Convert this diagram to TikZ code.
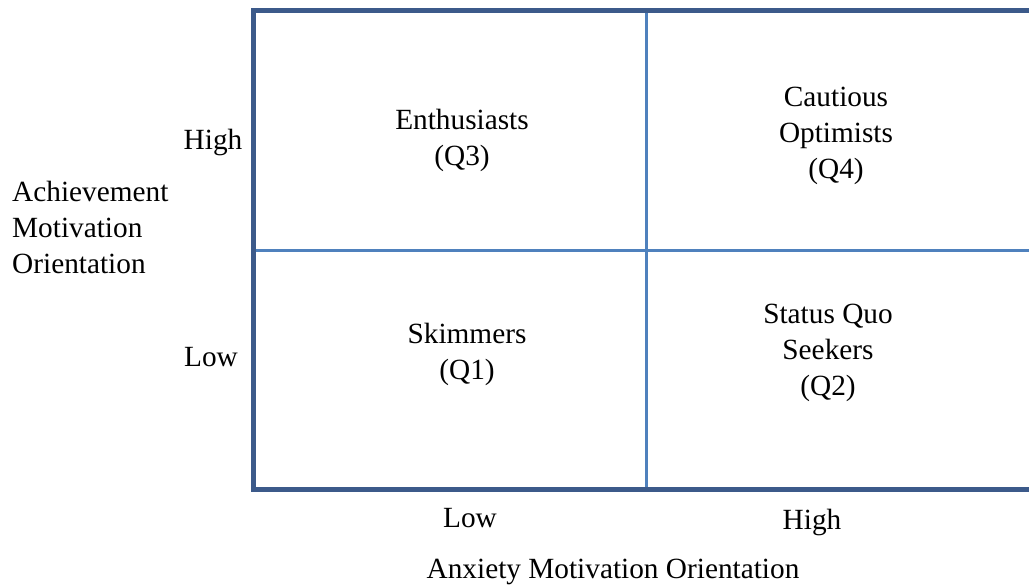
\documentclass[tikz,border=0pt]{standalone}
\usepackage{fontspec}
\setmainfont{Liberation Serif}
\definecolor{axisblue}{RGB}{60,90,138}
\definecolor{gridblue}{RGB}{79,129,189}
\begin{document}
\begin{tikzpicture}[x=1pt,y=-1pt,
  lbl/.style={font=\fontsize{29.3}{36}\selectfont, align=center, inner sep=0pt},
  axisline/.style={draw=axisblue, line width=5pt, line cap=rect},
  gridline/.style={draw=gridblue, line width=3pt}]
\useasboundingbox (0,0) rectangle (1029,585);
\coordinate (tl) at (253.5,11);
\coordinate (tr) at (1029,11);
\coordinate (bl) at (253.5,489.5);
\coordinate (br) at (1029,489.5);
\coordinate (mt) at (646.5,11);
\coordinate (mb) at (646.5,489.5);
\coordinate (ml) at (253.5,250.5);
\coordinate (mr) at (1029,250.5);
\draw[gridline] (mt) -- (mb);
\draw[gridline] (ml) -- (mr);
\draw[axisline] (tr) -- (tl) -- (bl) -- (br);
\node[lbl] (q3) at (462,140) {Enthusiasts\\(Q3)};
\node[lbl] (q4) at (836,136) {Cautious\\Optimists\\(Q4)};
\node[lbl] (q1) at (467,354) {Skimmers\\(Q1)};
\node[lbl] (q2) at (828,353) {Status Quo\\Seekers\\(Q2)};
\node[lbl] (yh) at (213,142) {High};
\node[lbl] (yl) at (211,357) {Low};
\node[lbl, align=left, anchor=west] (ylab) at (12,227) {Achievement\\Motivation\\Orientation};
\node[lbl] (xl) at (470,518) {Low};
\node[lbl] (xh) at (812,522) {High};
\node[lbl] (xlab) at (613,572) {Anxiety Motivation Orientation};
\end{tikzpicture}
\end{document}
